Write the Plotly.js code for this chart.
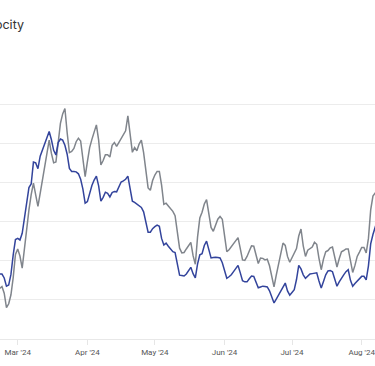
<!DOCTYPE html>
<html>
<head>
<meta charset="utf-8">
<script src="https://cdn.plot.ly/plotly-3.0.1.min.js"></script>
<style>
  html, body { margin: 0; padding: 0; background: #fff; }
  #chart { width: 375px; height: 366px; }
</style>
</head>
<body>
<div id="chart"></div>
<script>
// Daily series starting 2024-02-21
const startDate = '2024-02-21';
const titleText = 'Velocity';

const seriesA = [ // gray line
  12.5, 13.0, 13.4, 11.7, 8.0, 9.0, 11.3, 15.7, 21.6, 23.0, 21.2, 18.1, 23.5, 29.2, 33.0, 36.9,
  39.8, 36.8, 33.9, 37.2, 40.7, 43.9, 47.3, 50.8, 47.4, 45.0, 45.2, 50.2, 55.1, 57.5, 58.9, 52.7,
  47.6, 47.9, 48.7, 50.4, 51.3, 50.6, 45.8, 41.5, 45.3, 48.9, 51.0, 52.8, 54.7, 50.8, 44.5, 45.6,
  47.1, 47.1, 46.5, 49.5, 50.2, 49.2, 50.2, 51.4, 52.3, 53.2, 57.0, 52.1, 47.7, 48.9, 48.1, 49.8,
  50.8, 47.6, 43.0, 38.6, 38.0, 40.5, 41.9, 42.8, 42.8, 39.3, 34.4, 34.7, 34.0, 33.4, 32.6, 31.5,
  27.3, 23.2, 22.0, 22.1, 23.0, 23.9, 24.7, 21.3, 19.1, 26.1, 30.9, 32.4, 34.5, 35.6, 32.1, 28.5,
  27.5, 29.1, 30.6, 31.3, 30.6, 26.4, 22.3, 22.8, 23.6, 24.4, 25.2, 25.9, 23.1, 20.2, 20.1, 21.1,
  22.5, 23.8, 23.7, 21.2, 19.3, 20.7, 20.6, 20.2, 20.4, 18.7, 15.9, 13.3, 16.3, 19.2, 22.1, 24.5,
  23.9, 21.1, 19.6, 20.8, 22.1, 23.1, 26.3, 28.1, 23.8, 21.1, 22.7, 23.1, 23.5, 24.7, 24.2, 20.6,
  17.7, 20.4, 22.3, 22.6, 23.3, 23.5, 21.0, 18.4, 20.5, 22.3, 22.6, 23.0, 23.0, 19.9, 17.0, 18.8,
  21.1, 22.2, 23.4, 23.4, 22.0, 25.7, 33.0, 36.5, 37.3, 38.1
];

const seriesB = [ // blue line
  16.6, 16.6, 16.6, 15.6, 13.5, 13.8, 16.5, 21.5, 25.4, 25.7, 25.3, 27.0, 31.1, 35.0, 38.7, 39.6,
  45.2, 45.0, 43.5, 46.7, 48.3, 49.9, 51.5, 53.0, 50.9, 48.2, 47.0, 50.2, 51.1, 50.8, 49.5, 47.2,
  43.6, 42.8, 42.8, 42.7, 42.2, 40.8, 38.3, 34.7, 35.1, 37.2, 39.2, 40.6, 41.6, 39.1, 35.2, 36.2,
  37.5, 37.2, 36.3, 37.4, 37.7, 37.6, 38.8, 40.1, 40.4, 40.8, 41.6, 38.3, 35.2, 34.9, 34.5, 34.1,
  33.6, 32.5, 29.8, 27.3, 27.3, 28.2, 28.7, 29.1, 28.8, 25.7, 24.0, 24.5, 23.7, 23.0, 22.3, 22.1,
  18.7, 16.3, 16.2, 16.1, 16.6, 17.5, 18.3, 16.7, 15.6, 19.2, 21.5, 21.8, 23.9, 25.0, 22.8, 20.7,
  20.8, 20.9, 20.8, 20.7, 19.5, 17.5, 15.5, 15.9, 16.4, 17.2, 18.1, 18.8, 16.9, 14.9, 14.6, 14.6,
  15.4, 16.1, 16.0, 14.4, 13.1, 13.3, 13.5, 13.4, 13.3, 12.3, 10.7, 9.2, 10.2, 11.3, 12.4, 13.5,
  14.3, 12.3, 11.2, 11.9, 12.6, 15.2, 18.8, 17.9, 16.4, 15.5, 16.0, 16.6, 16.7, 16.8, 16.9, 14.8,
  13.0, 14.7, 16.4, 17.4, 17.5, 17.2, 15.4, 13.5, 14.6, 15.6, 16.4, 17.2, 17.7, 15.0, 13.5, 14.2,
  14.8, 15.5, 16.0, 16.0, 15.1, 18.7, 24.3, 26.7, 28.5, 30.4
];

// build the daily date axis
const dates = [];
{
  const d0 = new Date(startDate + 'T00:00:00Z');
  for (let i = 0; i < seriesA.length; i++) {
    const d = new Date(d0.getTime() + i * 86400000);
    dates.push(d.toISOString().slice(0, 10));
  }
}

const traces = [
  {
    x: dates, y: seriesA, type: 'scatter', mode: 'lines',
    line: { color: '#80858c', width: 1.5 },
    hoverinfo: 'skip', showlegend: false
  },
  {
    x: dates, y: seriesB, type: 'scatter', mode: 'lines',
    line: { color: '#33449c', width: 1.5 },
    hoverinfo: 'skip', showlegend: false
  }
];

const layout = {
  width: 375, height: 366,
  margin: { l: 0, r: 0, t: 65, b: 27, pad: 0 },
  paper_bgcolor: '#ffffff', plot_bgcolor: '#ffffff',
  font: { family: 'Roboto, Arial, sans-serif', color: '#555' },
  title: {
    text: titleText,
    x: 24 / 375, xref: 'container', xanchor: 'right',
    y: 1 - 25 / 366, yref: 'container', yanchor: 'middle',
    font: { size: 12.5, color: '#333', family: 'Inter, Roboto, Arial, sans-serif' }
  },
  xaxis: {
    type: 'date',
    range: ['2024-02-22 03:04', '2024-08-06 22:00'],
    dtick: 'M1', tick0: '2024-03-01',
    tickformat: "%b '%y",
    ticklabeloverflow: 'allow',
    ticks: 'outside', ticklen: 5, tickcolor: '#e6e6e6', tickwidth: 1,
    showgrid: false, zeroline: false,
    showline: true, linecolor: '#e8e8e8', linewidth: 1,
    tickfont: { size: 8, color: '#555', family: 'Roboto, Arial, sans-serif' }
  },
  yaxis: {
    range: [0, 70], dtick: 10, tick0: 0,
    showgrid: true, gridcolor: '#ececec', gridwidth: 1,
    showticklabels: false, zeroline: false, showline: false, ticks: ''
  }
};

Plotly.newPlot('chart', traces, layout, { displayModeBar: false, staticPlot: true });
</script>
</body>
</html>
